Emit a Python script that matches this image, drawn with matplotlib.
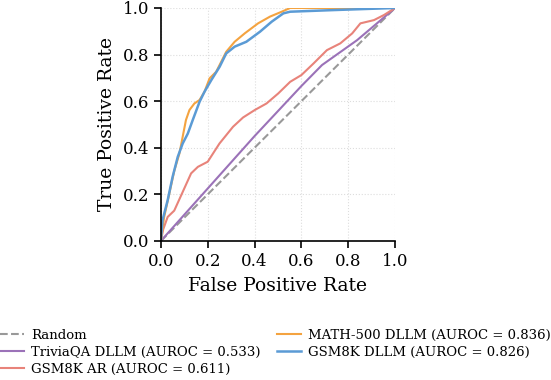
import matplotlib
matplotlib.use("Agg")
import matplotlib.pyplot as plt

# Data
random_fpr = [0, 1]
random_tpr = [0, 1]

trivia_fpr = [0, 0.2, 0.4, 0.6, 0.688, 0.838, 1.0]
trivia_tpr = [0, 0.225, 0.45, 0.665, 0.755, 0.862, 1.0]

ar_fpr = [0, 0.01, 0.029, 0.057, 0.093, 0.129, 0.158, 0.2, 0.25, 0.308, 0.351, 0.401, 0.451,
          0.501, 0.552, 0.60, 0.652, 0.709, 0.766, 0.817, 0.852, 0.91, 0.953, 1.0]
ar_tpr = [0, 0.05, 0.103, 0.13, 0.21, 0.29, 0.318, 0.34, 0.418, 0.49, 0.53, 0.562, 0.59,
          0.633, 0.683, 0.712, 0.762, 0.819, 0.848, 0.891, 0.934, 0.948, 0.97, 1.0]

math_fpr = [0, 0.014, 0.036, 0.057, 0.079, 0.093, 0.107, 0.122, 0.143, 0.165, 0.186, 0.208,
            0.236, 0.279, 0.315, 0.358, 0.415, 0.466, 0.516, 0.552, 1.0]
math_tpr = [0, 0.103, 0.203, 0.30, 0.375, 0.447, 0.519, 0.562, 0.59, 0.605, 0.64, 0.698,
            0.726, 0.812, 0.855, 0.891, 0.934, 0.963, 0.984, 1.0, 1.0]

gsm_fpr = [0, 0.007, 0.029, 0.05, 0.072, 0.093, 0.115, 0.136, 0.165, 0.186, 0.215, 0.251,
           0.279, 0.315, 0.365, 0.423, 0.473, 0.523, 0.552, 0.738, 1.0]
gsm_tpr = [0, 0.089, 0.175, 0.275, 0.361, 0.418, 0.461, 0.519, 0.597, 0.64, 0.69, 0.748,
           0.805, 0.834, 0.855, 0.898, 0.941, 0.977, 0.984, 0.991, 1.0]

labels = ["Random",
          "TriviaQA DLLM (AUROC = 0.533)",
          "GSM8K AR (AUROC = 0.611)",
          "MATH-500 DLLM (AUROC = 0.836)",
          "GSM8K DLLM (AUROC = 0.826)"]
ticks = [0.0, 0.2, 0.4, 0.6, 0.8, 1.0]

plt.rcParams['font.family'] = ['DejaVu Serif']

fig = plt.figure(figsize=(5.51, 3.8), dpi=100)
ax = fig.add_axes([0.292, 0.366, 0.425, 0.613])

ax.plot(random_fpr, random_tpr, linestyle='--', color='#999999', lw=1.5, label=labels[0])
ax.plot(trivia_fpr, trivia_tpr, color='#9B72B8', lw=1.5, label=labels[1])
ax.plot(ar_fpr, ar_tpr, color='#E8837A', lw=1.5, label=labels[2])
ax.plot(math_fpr, math_tpr, color='#F4A340', lw=1.5, label=labels[3])
ax.plot(gsm_fpr, gsm_tpr, color='#5B9BD5', lw=1.8, label=labels[4])

ax.set_xlim(0, 1)
ax.set_ylim(0, 1)
ax.set_xticks(ticks)
ax.set_yticks(ticks)
ax.set_xticklabels([f"{t:.1f}" for t in ticks])
ax.set_yticklabels([f"{t:.1f}" for t in ticks])
ax.tick_params(labelsize=12, length=5, width=1.2, pad=3.5)
ax.set_xlabel("False Positive Rate", fontsize=13.5, labelpad=5)
ax.set_ylabel("True Positive Rate", fontsize=13.5, labelpad=5)
ax.grid(True, linestyle=':', color='#dddddd', lw=0.8)
for s in ['top', 'right']:
    ax.spines[s].set_visible(False)
for s in ['left', 'bottom']:
    ax.spines[s].set_linewidth(1.2)

fig.legend(loc='lower center', bbox_to_anchor=(0.5, -0.02), ncol=2, frameon=False,
           fontsize=9.5, handlelength=1.75, columnspacing=1.3, labelspacing=0.3,
           handletextpad=0.55)

fig.savefig("out.png", dpi=100)
